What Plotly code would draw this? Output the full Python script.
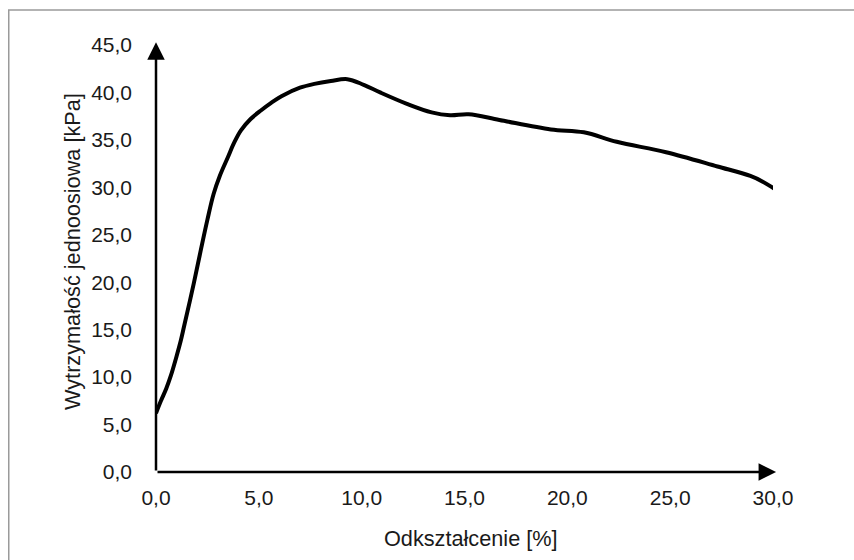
import plotly.graph_objects as go

# Data
strain = [0.0, 0.24, 0.5, 0.73, 1.0, 1.2, 1.36, 1.84, 2.18, 2.5, 2.8, 3.1, 3.5, 3.8,
          4.13, 4.6, 5.1, 5.6, 6.1, 7.0, 7.7, 8.5, 9.3, 10.1, 10.9, 12.2, 13.4,
          14.3, 15.2, 16.7, 19.2, 20.8, 22.4, 24.8, 27.3, 28.9, 29.5, 30.1]
stress = [6.2, 7.5, 8.8, 10.2, 12.2, 13.8, 15.3, 19.9, 23.4, 26.6, 29.3, 31.2, 33.2,
          34.7, 36.0, 37.2, 38.1, 38.9, 39.6, 40.5, 40.9, 41.2, 41.4, 40.8, 40.0,
          38.8, 37.9, 37.6, 37.7, 37.1, 36.1, 35.8, 34.8, 33.7, 32.2, 31.2, 30.6,
          29.8]

x_ticks = [0, 5, 10, 15, 20, 25, 30]
y_ticks = [0, 5, 10, 15, 20, 25, 30, 35, 40, 45]

x_title = "Odkształcenie [%]"
y_title = "Wytrzymałość jednoosiowa [kPa]"

FONT = "Liberation Sans, Arial, sans-serif"

fig = go.Figure()
fig.add_trace(go.Scatter(x=strain, y=stress, mode="lines",
                         line=dict(color="black", width=4, shape="spline", smoothing=1.0),
                         showlegend=False, hoverinfo="skip"))

W, H = 854, 560
L, R, T, B = 156, 81, 45, 88
pw, ph = W - L - R, H - T - B

def px_to_paper_x(px):
    return (px - L) / pw

def px_to_paper_y(py):
    return (H - B - py) / ph

frame = dict(color="#9a9a9a", width=1.5)

fig.update_layout(
    width=W, height=H,
    margin=dict(l=L, r=R, t=T, b=B, pad=0),
    paper_bgcolor="white", plot_bgcolor="white",
    separators=",.",
    font=dict(family=FONT, size=21, color="#1a1a1a"),
    xaxis=dict(range=[0, 30], tickvals=x_ticks, tickformat=".1f",
               showgrid=False, zeroline=False, showline=False,
               ticks="", ticklabelstandoff=11, fixedrange=True),
    yaxis=dict(range=[0, 45], tickvals=y_ticks, tickformat=".1f",
               showgrid=False, zeroline=False, showline=False,
               ticks="", ticklabelstandoff=23, fixedrange=True),
    shapes=[
        dict(type="line", xref="paper", yref="paper",
             x0=px_to_paper_x(8.75), x1=px_to_paper_x(8.75),
             y0=px_to_paper_y(600), y1=px_to_paper_y(10), line=frame, layer="below"),
        dict(type="line", xref="paper", yref="paper",
             x0=px_to_paper_x(8), x1=px_to_paper_x(900),
             y0=px_to_paper_y(10), y1=px_to_paper_y(10), line=frame, layer="below"),
    ],
    annotations=[
        # x axis with arrow
        dict(xref="x", yref="y", axref="x", ayref="y", x=30.15, y=0, ax=0, ay=0,
             showarrow=True, arrowhead=2, arrowsize=1.4, arrowwidth=2.5,
             arrowcolor="black", text=""),
        # y axis with arrow
        dict(xref="x", yref="y", axref="x", ayref="y", x=0, y=45.3, ax=0, ay=0,
             showarrow=True, arrowhead=2, arrowsize=1.4, arrowwidth=2.5,
             arrowcolor="black", text=""),
        dict(xref="paper", yref="paper", x=px_to_paper_x(471), y=px_to_paper_y(538),
             text=x_title, showarrow=False, xanchor="center", yanchor="middle",
             font=dict(size=21.7)),
        dict(xref="paper", yref="paper", x=px_to_paper_x(72), y=px_to_paper_y(252),
             text=y_title, showarrow=False, xanchor="center", yanchor="middle",
             textangle=-90, font=dict(size=21.7)),
    ],
)

fig.write_html(
    "out.html",
    config={"displayModeBar": False, "staticPlot": True},
    post_script="document.documentElement.style.overflow='hidden';"
                "document.body.style.margin='0';document.body.style.overflow='hidden';",
)
